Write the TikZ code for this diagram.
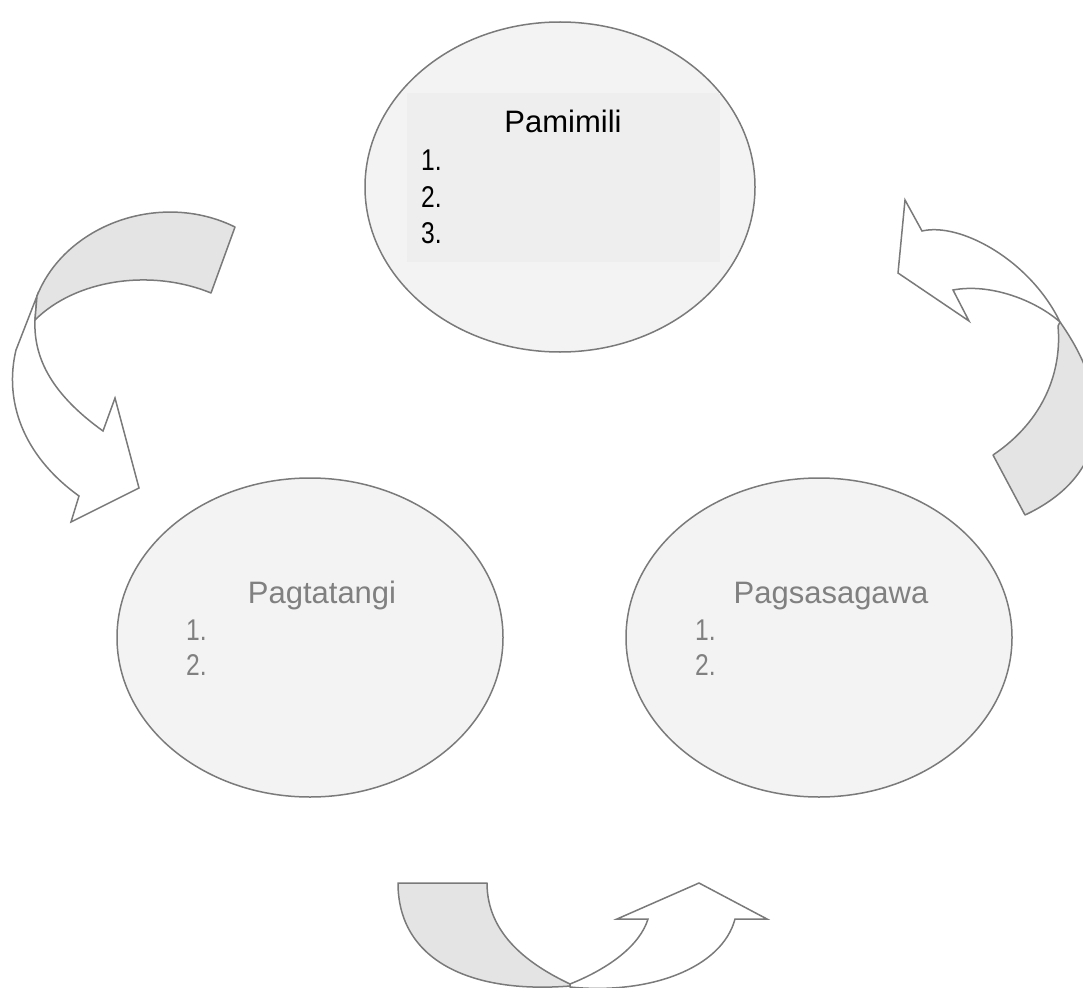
\documentclass[tikz,border=0pt]{standalone}
\usepackage{fontspec}
\setmainfont{Liberation Sans}
\newfontfamily\numfont[FakeStretch=0.82]{Liberation Sans}
\usetikzlibrary{shapes.geometric}
\definecolor{ellfill}{HTML}{F3F3F3}
\definecolor{boxfill}{HTML}{EEEEEE}
\definecolor{edgecol}{HTML}{7A7A7A}
\definecolor{backfill}{HTML}{E4E4E4}
\definecolor{greytext}{HTML}{808080}
\begin{document}
\begin{tikzpicture}[x=1pt,y=-1pt,
  ellnode/.style={ellipse,draw=edgecol,fill=ellfill,line width=1.5pt,inner sep=0pt},
  titletext/.style={anchor=base,font=\fontsize{31}{37}\selectfont,inner sep=0pt},
  numtext/.style={anchor=base west,font=\numfont\fontsize{30}{35}\selectfont,inner sep=0pt},
  backface/.style={fill=backfill,draw=edgecol,line width=1.5pt,line join=round},
  frontface/.style={fill=white,draw=edgecol,line width=1.5pt,line join=miter}]
\useasboundingbox (0,0) rectangle (1083,987);

% ellipses
\node[ellnode,minimum width=390pt,minimum height=330pt] (pamimili) at (560,187) {};
\node[fill=boxfill,minimum width=313pt,minimum height=169pt,inner sep=0pt] (pamimilibox) at (563.5,177.5) {};
\node[ellnode,minimum width=386pt,minimum height=319pt] (pagtatangi) at (310,637.5) {};
\node[ellnode,minimum width=386pt,minimum height=319pt] (pagsasagawa) at (819,637.5) {};

% texts
\node[titletext,text=black] (t1) at (563,133) {Pamimili};
\node[numtext,text=black] (t1a) at (421,171) {1.};
\node[numtext,text=black] (t1b) at (421,207) {2.};
\node[numtext,text=black] (t1c) at (421,243) {3.};

\node[titletext,text=greytext] (t2) at (322,603) {Pagtatangi};
\node[numtext,text=greytext] (t2a) at (186,640) {1.};
\node[numtext,text=greytext] (t2b) at (186,675) {2.};

\node[titletext,text=greytext] (t3) at (831,603) {Pagsasagawa};
\node[numtext,text=greytext] (t3a) at (695,640) {1.};
\node[numtext,text=greytext] (t3b) at (695,675) {2.};

\begin{scope}
\clip (0,0) rectangle (1083,987);
% left curved arrow
\draw[frontface] (37,296) -- (16,350)
  .. controls (4,400) and (22,455) .. (79,496)
  -- (71,522) -- (139,488) -- (115,398) -- (103,431)
  .. controls (60,400) and (33,365) .. (35,320)
  -- cycle;
\draw[backface] (235,227) -- (211,293)
  .. controls (150,268) and (75,280) .. (35,320)
  -- (37,296)
  .. controls (65,225) and (160,190) .. (235,227)
  -- cycle;

% right curved arrow
\draw[frontface] (905,200) -- (922,231)
  .. controls (960,222) and (1030,260) .. (1060,322)
  .. controls (1035,300) and (990,283) .. (953,290)
  -- (969,321) -- (898,273) -- cycle;
\draw[backface] (1060,322)
  .. controls (1115,400) and (1110,475) .. (1025,515)
  -- (993,455)
  .. controls (1045,420) and (1062,370) .. (1058,326)
  -- cycle;

% bottom curved arrow
\draw[backface] (398,883) -- (487,883)
  .. controls (487,935) and (530,965) .. (570,984)
  -- (570,986)
  .. controls (470,994) and (398,960) .. (398,883)
  -- cycle;
\draw[frontface] (570,984)
  .. controls (610,968) and (640,945) .. (648,919)
  -- (617,919) -- (699,883) -- (767,919) -- (735,919)
  .. controls (722,968) and (650,995) .. (570,987)
  -- cycle;
\end{scope}
\end{tikzpicture}
\end{document}
